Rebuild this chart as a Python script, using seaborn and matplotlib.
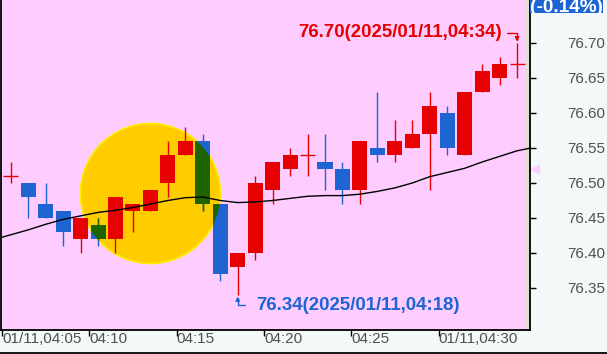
import numpy as np
import pandas as pd
import matplotlib
matplotlib.use("Agg")
import matplotlib.pyplot as plt
import matplotlib.transforms as mtransforms
from matplotlib.patches import Ellipse, Rectangle
import seaborn as sns

# ---------------- data ----------------
date_str = "2025/01/11"
times = ["04:05", "04:06", "04:07", "04:08", "04:09", "04:10", "04:11", "04:12",
         "04:13", "04:14", "04:15", "04:16", "04:17", "04:18", "04:19", "04:20",
         "04:21", "04:22", "04:23", "04:24", "04:25", "04:26", "04:27", "04:28",
         "04:29", "04:30", "04:31", "04:32", "04:33", "04:34"]
opens = [76.51, 76.50, 76.47, 76.46, 76.42, 76.44, 76.42, 76.46, 76.46, 76.50,
         76.54, 76.56, 76.47, 76.38, 76.40, 76.49, 76.52, 76.54, 76.53, 76.52,
         76.49, 76.55, 76.54, 76.55, 76.57, 76.60, 76.54, 76.63, 76.65, 76.67]
highs = [76.53, 76.50, 76.50, 76.46, 76.45, 76.45, 76.48, 76.47, 76.49, 76.56,
         76.58, 76.57, 76.47, 76.40, 76.51, 76.53, 76.55, 76.57, 76.57, 76.53,
         76.56, 76.63, 76.59, 76.59, 76.63, 76.61, 76.63, 76.67, 76.68, 76.70]
lows = [76.50, 76.45, 76.45, 76.41, 76.40, 76.41, 76.40, 76.43, 76.46, 76.48,
        76.54, 76.46, 76.36, 76.34, 76.39, 76.47, 76.51, 76.51, 76.49, 76.47,
        76.47, 76.53, 76.53, 76.55, 76.49, 76.54, 76.54, 76.63, 76.64, 76.65]
closes = [76.51, 76.48, 76.45, 76.43, 76.45, 76.42, 76.48, 76.47, 76.49, 76.54,
          76.56, 76.47, 76.37, 76.40, 76.50, 76.53, 76.54, 76.54, 76.52, 76.49,
          76.56, 76.54, 76.56, 76.57, 76.61, 76.55, 76.63, 76.66, 76.67, 76.67]

ma_times = ["04:04"] + times + ["04:35"]
ma_values = [76.419, 76.426, 76.433, 76.441, 76.448, 76.453, 76.458, 76.461,
             76.465, 76.470, 76.475, 76.479, 76.480, 76.475, 76.472, 76.473,
             76.475, 76.478, 76.481, 76.482, 76.482, 76.484, 76.488, 76.493,
             76.500, 76.509, 76.515, 76.521, 76.530, 76.538, 76.546, 76.551]

y_ticks = [76.35, 76.40, 76.45, 76.50, 76.55, 76.60, 76.65, 76.70]
x_tick_times = ["04:05", "04:10", "04:15", "04:20", "04:25", "04:30"]
x_tick_labels = ["01/11,04:05", "04:10", "04:15", "04:20", "04:25", "01/11,04:30"]

change_label = "(-0.14%)"
circle_time = "04:13"
circle_price = 76.485
marker_price = 76.52

# ---------------- style ----------------
RED = "#E60000"
BLUE = "#1E64D2"
GREEN = "#1E6400"
PINK = "#FFCCFF"
PANEL = "#F3F8F8"
LBL = "#505050"

sns.set_style("white")
plt.rcParams["font.family"] = ["Liberation Sans", "DejaVu Sans"]

W, H = 607, 354
fig = plt.figure(figsize=(W / 100, H / 100), dpi=100, facecolor=PANEL)
ax = fig.add_axes([1 / W, 24 / H, 529 / W, 330 / H])
ax.set_facecolor(PINK)

pos = {t: k for k, t in enumerate(times)}
ma_pos = {t: k - 1 for k, t in enumerate(ma_times)}
idx = np.arange(len(times))
o = np.array(opens); h = np.array(highs); l = np.array(lows); c = np.array(closes)

ax.set_xlim(-0.556, 29.74)
ax.set_ylim(76.29, 76.7614)

# beige strip at right edge of plot
ax.add_patch(Rectangle((0.9905, 0), 0.0095, 1, transform=ax.transAxes,
                       facecolor="#E0E0D0", edgecolor="none", zorder=0.5))

# highlight circle
ell = Ellipse((pos[circle_time], circle_price), width=8.02, height=0.2,
              facecolor="#FFCC00", edgecolor="#FFEE00", lw=1.2, zorder=1)
ax.add_patch(ell)

bw = 0.86
px = 0.72  # one pixel in points
up = c > o
dn = c < o
eq = c == o
colors = np.where(up, RED, np.where(dn, BLUE, RED))

# wicks
ax.vlines(idx, l, h, colors=list(colors), lw=1.0, zorder=2)
# bodies
ax.bar(idx[up], (c - o)[up], bottom=o[up], width=bw, color=RED, lw=0, zorder=3)
ax.bar(idx[dn], (o - c)[dn], bottom=c[dn], width=bw, color=BLUE, lw=0, zorder=3)
ax.hlines(c[eq], idx[eq] - bw / 2, idx[eq] + bw / 2, colors=RED, lw=1.0, zorder=3)

# green overlay of falling candles within the circle
gw = ax.vlines(idx[dn], l[dn], h[dn], colors=GREEN, lw=1.0, zorder=2.5)
gw.set_clip_path(ell)
gb = ax.bar(idx[dn], (o - c)[dn], bottom=c[dn], width=bw, color=GREEN, lw=0, zorder=3.5)
for p in gb.patches:
    p.set_clip_path(ell)

# moving average line
ma_df = pd.DataFrame({"x": [ma_pos[t] for t in ma_times], "ma": ma_values})
sns.lineplot(data=ma_df, x="x", y="ma", ax=ax, color="black", lw=1.0,
             estimator=None, sort=False, zorder=6)
ax.set_xlabel("")
ax.set_ylabel("")

# axes styling
for s in ["left", "right", "bottom"]:
    ax.spines[s].set_visible(True)
    ax.spines[s].set_color("black")
    ax.spines[s].set_linewidth(1.3)
ax.spines["top"].set_visible(False)

ax.yaxis.tick_right()
ax.set_yticks(y_ticks)
ax.set_yticklabels([f"{v:.2f}" for v in y_ticks])
ax.tick_params(axis="y", which="both", direction="out", length=4, width=1,
               color="black", pad=22.5, labelsize=11, labelcolor=LBL,
               left=False, right=True)
ax.set_xticks([pos[t] - 0.5 for t in x_tick_times])
ax.set_xticklabels(x_tick_labels)
ax.tick_params(axis="x", direction="out", length=4.5, width=1, color="black",
               pad=-3.0, labelsize=11, labelcolor=LBL, bottom=True)
for lbl in ax.get_xticklabels():
    lbl.set_horizontalalignment("left")

# high / low annotations
hi = int(np.argmax(h))
lo = int(np.argmin(l))
ax.annotate(f"{h[hi]:.2f}({date_str},{times[hi]})", xy=(hi, h[hi]),
            xytext=(-15, 10), textcoords="offset pixels", ha="right", va="center",
            color=RED, fontsize=13.4, fontweight="bold", zorder=8,
            arrowprops=dict(arrowstyle="-|>", color=RED, lw=1.0, mutation_scale=6,
                            shrinkA=1, shrinkB=1, relpos=(1, 0.5),
                            connectionstyle="angle,angleA=0,angleB=90,rad=0"))
ax.annotate(f"{l[lo]:.2f}({date_str},{times[lo]})", xy=(lo, l[lo]),
            xytext=(19, -10.5), textcoords="offset pixels", ha="left", va="center",
            color=BLUE, fontsize=13.4, fontweight="bold", zorder=8,
            arrowprops=dict(arrowstyle="-|>", color=BLUE, lw=1.0, mutation_scale=6,
                            shrinkA=6, shrinkB=1, relpos=(0, 0.5),
                            connectionstyle="angle,angleA=0,angleB=90,rad=0"))

# small pink pointer at the right axis
trans = mtransforms.blended_transform_factory(ax.transAxes, ax.transData)
ax.plot([1 + 5 / 529], [marker_price], marker="<", ms=6, color=PINK,
        transform=trans, clip_on=False, zorder=9)

# change box at top right
fig.patches.append(Rectangle((530 / W, (H - 12.5) / H), 73 / W, 12.5 / H,
                             transform=fig.transFigure, facecolor=BLUE,
                             edgecolor="none", zorder=5))
fig.text(566.5 / W, (H - 11.5) / H, change_label, ha="center", va="baseline",
         color="white", fontsize=13.7, fontweight="bold", zorder=6)

# dark strip at bottom
fig.patches.append(Rectangle((0, 0), 1, 2.5 / H, transform=fig.transFigure,
                             facecolor="#1A1A1A", edgecolor="none", zorder=5))

fig.savefig("out.png", dpi=100, facecolor=PANEL)
